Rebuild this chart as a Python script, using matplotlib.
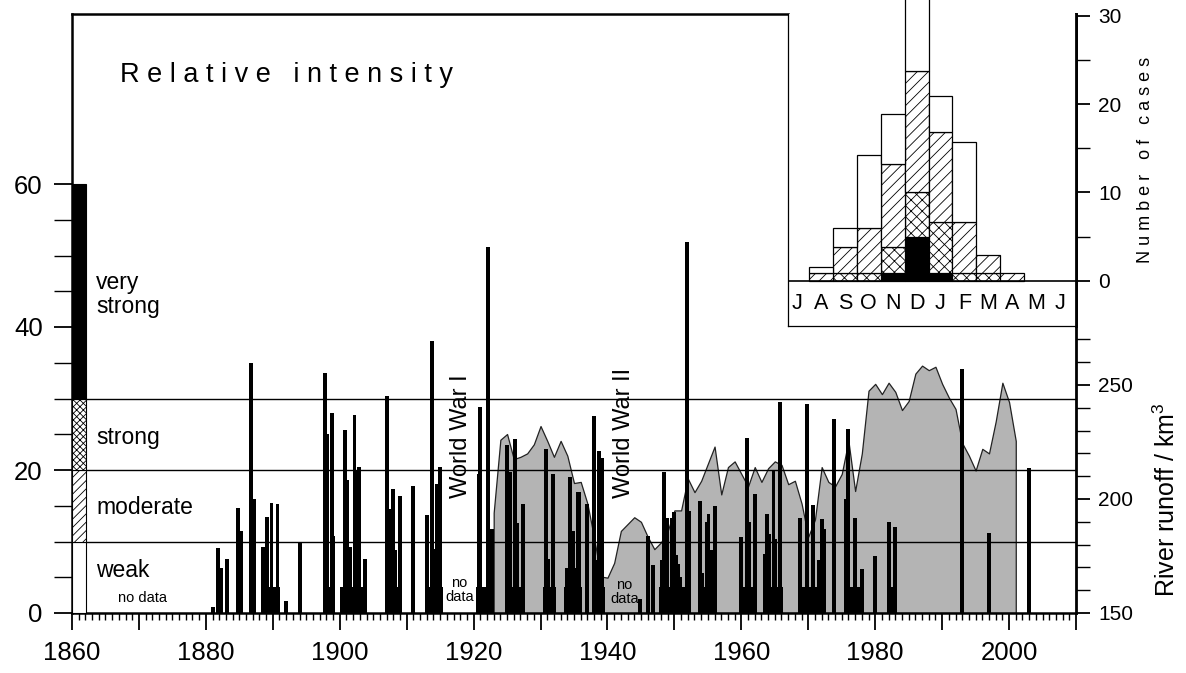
import matplotlib
matplotlib.use('Agg')
import matplotlib.pyplot as plt
from matplotlib.ticker import FixedLocator, FuncFormatter, MultipleLocator

plt.rcParams['font.family'] = ['Liberation Sans', 'DejaVu Sans']
plt.rcParams['mathtext.fontset'] = 'custom'
plt.rcParams['mathtext.rm'] = 'Liberation Sans'
plt.rcParams['hatch.linewidth'] = 0.6

# ---------------- data ----------------
# individual ice-jam events: (year position, relative intensity)
event_years = [1881.0, 1881.8, 1882.3, 1883.2, 1884.8, 1885.2, 1886.8, 1887.2, 1888.5, 1889.1,
               1889.8, 1890.7, 1892.0, 1894.1, 1897.8, 1898.1, 1898.8, 1899.0, 1900.8, 1901.1,
               1901.4, 1901.6, 1902.2, 1902.6, 1902.9, 1903.8, 1907.0, 1907.6, 1908.0, 1908.3,
               1909.0, 1911.0, 1913.0, 1913.8, 1914.2, 1914.5, 1915.0, 1920.8, 1921.0, 1922.2,
               1922.7, 1925.0, 1925.3, 1925.5, 1926.2, 1926.5, 1927.4, 1930.8, 1931.1, 1931.9,
               1933.9, 1934.2, 1934.4, 1934.6, 1934.9, 1935.1, 1935.6, 1935.8, 1937.0, 1938.0,
               1938.3, 1938.8, 1939.2, 1944.9, 1946.1, 1946.8, 1948.1, 1948.5, 1948.9, 1949.6,
               1949.9, 1950.3, 1950.6, 1950.9, 1951.2, 1951.9, 1952.2, 1953.8, 1954.1, 1954.9,
               1955.1, 1955.6, 1956.0, 1960.0, 1960.9, 1961.2, 1962.0, 1963.6, 1963.9, 1964.2,
               1964.8, 1965.1, 1965.8, 1968.8, 1969.8, 1970.7, 1971.6, 1972.0, 1972.3, 1973.8,
               1975.7, 1975.9, 1977.0, 1978.0, 1980.0, 1982.0, 1983.0, 1993.0, 1997.0, 2003.0]
event_values = [0.9, 9.1, 6.3, 7.6, 14.7, 11.5, 35.0, 16.0, 9.3, 13.4,
                15.4, 15.3, 1.7, 9.8, 33.6, 25.1, 28.0, 10.8, 25.6, 18.6,
                8.1, 9.2, 27.7, 20.0, 20.4, 7.6, 30.3, 14.5, 17.3, 8.8,
                16.3, 17.7, 13.7, 38.0, 8.9, 18.1, 20.4, 19.5, 28.8, 51.2,
                11.7, 23.5, 10.6, 19.7, 24.4, 12.6, 15.3, 23.0, 7.5, 19.4,
                6.3, 6.3, 19.0, 6.3, 11.4, 6.3, 16.9, 16.9, 15.2, 27.6,
                7.4, 22.7, 21.7, 1.9, 10.7, 6.7, 7.4, 19.7, 13.3, 13.3,
                14.1, 8.1, 6.8, 5.1, 3.5, 51.9, 14.2, 15.6, 5.6, 12.7,
                13.9, 8.8, 14.9, 10.6, 24.5, 12.7, 16.6, 8.3, 13.8, 11.1,
                19.9, 10.3, 29.5, 13.3, 29.3, 15.1, 7.4, 13.1, 11.8, 27.2,
                15.9, 25.7, 13.3, 6.1, 8.0, 12.7, 12.0, 34.1, 11.2, 20.3]

# many weak events (intensity about 3.6)
weak_years = [1888.8, 1889.2, 1889.5, 1889.9, 1890.2, 1890.5, 1890.8,
              1898.0, 1898.4, 1898.7, 1899.0,
              1900.3, 1900.6, 1901.0, 1901.3, 1901.7, 1902.0, 1902.4, 1902.8, 1903.1, 1903.5, 1903.8,
              1907.7, 1908.1, 1908.4, 1908.8, 1909.1,
              1913.0, 1913.4, 1913.7, 1914.1, 1914.4, 1914.8, 1915.1,
              1920.7, 1921.1, 1921.4, 1921.8, 1922.1, 1922.4,
              1924.9, 1925.3, 1925.6, 1926.0, 1926.3, 1926.7, 1927.0, 1927.3,
              1930.7, 1931.1, 1931.4, 1931.8, 1932.0,
              1933.8, 1934.2, 1934.5, 1934.9, 1935.2, 1935.6, 1935.9,
              1938.0, 1938.4, 1938.7, 1939.0, 1939.3,
              1948.0, 1948.4, 1948.7, 1949.1, 1949.4, 1949.8, 1950.1, 1950.5, 1950.8, 1951.2, 1951.5,
              1953.8, 1954.2, 1954.5, 1954.9, 1955.2, 1955.6, 1955.9,
              1960.1, 1960.5, 1960.8, 1961.2, 1961.5, 1961.9,
              1963.5, 1963.9, 1964.2, 1964.6, 1964.9, 1965.3, 1965.6, 1965.9,
              1968.8, 1969.2, 1969.5, 1969.9, 1970.2, 1970.6, 1970.9, 1971.3, 1971.6, 1972.0,
              1975.7, 1976.1, 1976.4, 1976.8, 1977.1, 1977.5, 1977.8, 1978.1,
              1982.0, 1982.3, 1982.7, 1983.0]
weak_value = 3.6

# river runoff (km^3)
runoff_years = list(range(1923, 2002))
runoff = [194, 226, 228.5, 217.5, 218.5, 220, 224, 232, 225.5, 218.5,
          225.5, 219, 207, 207.5, 198, 183, 166, 165.5, 172, 186,
          189, 192, 190, 183.5, 178, 181, 186, 195, 195, 209,
          203, 208, 215.5, 223, 202, 214, 216.5, 211, 205.5, 214,
          207.5, 213.5, 216.5, 215, 206.5, 208, 198, 183.5, 191, 214,
          207.5, 205.5, 211, 225.5, 203.5, 220, 247.5, 250.5, 246, 251,
          247, 239, 243, 255, 258.5, 256.5, 258, 250.5, 244.5, 239.5,
          224.5, 219, 212.5, 222, 220, 234, 251, 242.5, 225.5]

# intensity classes (left scale bar)
class_names = ['weak', 'moderate', 'strong', 'very\nstrong']
class_bounds = [0, 10, 20, 30, 60]
class_label_y = [6.0, 14.7, 24.6, 44.5]

# inset: number of cases per month, by class
months = ['J', 'A', 'S', 'O', 'N', 'D', 'J', 'F', 'M', 'A', 'M', 'J']
cases_very_strong = [0, 0, 0, 0, 0.9, 5.0, 0.9, 0, 0, 0, 0, 0]
cases_strong = [0, 0, 0.9, 0.9, 2.95, 5.0, 5.8, 0.9, 0.9, 0, 0, 0]
cases_moderate = [0, 0.9, 2.95, 5.1, 9.35, 13.7, 10.1, 5.8, 2.0, 0.9, 0, 0]
cases_weak = [0, 0.7, 2.15, 8.2, 5.7, 9.3, 4.1, 9.0, 0, 0, 0, 0]

# ---------------- figure ----------------
W, H = 1186, 673
fig = plt.figure(figsize=(W / 100, H / 100), dpi=100)


def px(x0, y0, x1, y1):
    return [x0 / W, 1 - y1 / H, (x1 - x0) / W, (y1 - y0) / H]


ax = fig.add_axes(px(72, 14, 1076, 613))
ax2 = ax.twinx()
ax.set_zorder(2)
ax2.set_zorder(1)
ax.patch.set_visible(False)

YTOP = 599 / 7.15
ax.set_xlim(1860, 2010)
ax.set_ylim(0, YTOP)
ax2.set_ylim(150, 150 + 599 / 2.28)

# runoff area
ax2.fill_between(runoff_years, 150, runoff, facecolor='#b4b4b4',
                 edgecolor='#222222', linewidth=0.9)

# class boundaries
for b in class_bounds[1:4]:
    ax.axhline(b, color='black', lw=1.0, zorder=3)

# events
ax.bar(weak_years, [weak_value] * len(weak_years), width=0.55, color='black', lw=0, zorder=4)
ax.bar(event_years, event_values, width=0.58, color='black', lw=0, zorder=4)

# left scale bar
faces = ['white', 'white', 'white', 'black']
hatches = [None, '////', 'xxxxx', None]
for i in range(4):
    ax.bar(1860, class_bounds[i + 1] - class_bounds[i], bottom=class_bounds[i], width=2.1,
           align='edge', facecolor=faces[i], edgecolor='black', hatch=hatches[i], lw=0.8,
           zorder=5)
for name, yy in zip(class_names, class_label_y):
    ax.text(1863.6, yy, name, fontsize=16.5, ha='left', va='center', linespacing=1.05,
            zorder=6)

ax.text(1867.2, 75.2, 'R e l a t i v e   i n t e n s i t y', fontsize=19.5,
        ha='left', va='center')
ax.text(1870.5, 2.1, 'no data', fontsize=10.5, ha='center', va='center')
ax.text(1917.9, 3.2, 'no\ndata', fontsize=10.5, ha='center', va='center', linespacing=1.0,
        zorder=6)
ax.text(1942.5, 2.9, 'no\ndata', fontsize=10.5, ha='center', va='center', linespacing=1.0,
        zorder=6)
ax.text(1918.1, 24.7, 'World War I', fontsize=17, rotation=90, ha='center', va='center',
        zorder=6)
ax.text(1942.5, 25.2, 'World War II', fontsize=17, rotation=90, ha='center', va='center',
        zorder=6)

# spines
for s in ['left', 'bottom']:
    ax.spines[s].set_linewidth(1.8)
ax.spines['right'].set_visible(False)
ax.spines['top'].set_linewidth(1.8)
ax.spines['top'].set_bounds(1860, 1966.9)
for s in ['left', 'top', 'bottom']:
    ax2.spines[s].set_visible(False)
ax2.spines['right'].set_linewidth(2.0)

# x ticks
ax.xaxis.set_major_locator(FixedLocator(list(range(1860, 2011, 10))))
ax.xaxis.set_minor_locator(MultipleLocator(1))
ax.xaxis.set_major_formatter(FuncFormatter(lambda v, p: f'{int(v)}' if int(v) % 20 == 0 and v < 2010 else ''))
ax.tick_params(axis='x', which='major', direction='out', length=12, width=1.3, labelsize=18.5, pad=8)
ax.tick_params(axis='x', which='minor', direction='out', length=5, width=1.0)

# left y ticks
ax.yaxis.set_major_locator(FixedLocator([0, 20, 40, 60]))
ax.yaxis.set_minor_locator(FixedLocator(list(range(0, 61, 5))))
ax.tick_params(axis='y', which='major', direction='out', length=13, width=1.3, labelsize=18.5, pad=8)
ax.tick_params(axis='y', which='minor', direction='out', length=13, width=1.0)

# right y ticks (runoff)
ax2.yaxis.set_major_locator(FixedLocator([150, 200, 250]))
ax2.yaxis.set_minor_locator(FixedLocator(list(range(150, 271, 10))))
ax2.tick_params(axis='y', which='major', direction='out', length=10, width=1.3, labelsize=15, pad=6)
ax2.tick_params(axis='y', which='minor', direction='out', length=10, width=1.0)
fig.text(1167 / W, 1 - 500 / H, 'River runoff / km$^3$', rotation=90, fontsize=18,
         ha='center', va='center')

# ---------------- inset ----------------
axi = fig.add_axes(px(788, 14, 1076, 326))
axi.set_zorder(5)
axi.set_facecolor('white')
axi.set_xlim(-0.38, 11.67)
axi.set_ylim(-(326 - 280.7) / 8.83, (280.7 - 14) / 8.83)
mi = list(range(len(months)))
b0 = [0] * 12
b1 = cases_very_strong
b2 = [a + b for a, b in zip(b1, cases_strong)]
b3 = [a + b for a, b in zip(b2, cases_moderate)]
layers = [(cases_very_strong, b0, 'black', None),
          (cases_strong, b1, 'white', 'xxx'),
          (cases_moderate, b2, 'white', '///'),
          (cases_weak, b3, 'white', None)]
for vals, bot, fc, h in layers:
    for i in mi:
        if vals[i] > 0:
            axi.bar(i, vals[i], bottom=bot[i], width=1.0, facecolor=fc, edgecolor='black',
                    hatch=h, lw=0.9, clip_on=False, zorder=2)
axi.axhline(0, color='black', lw=1.2, zorder=3)
for i, m in zip(mi, months):
    axi.text(i, -2.6, m, fontsize=15.5, ha='center', va='center')
axi.spines['top'].set_visible(False)
axi.spines['left'].set_linewidth(0.9)
axi.spines['bottom'].set_linewidth(0.9)
axi.spines['right'].set_linewidth(2.0)
axi.set_xticks([])
axi.yaxis.tick_right()
axi.yaxis.set_major_locator(FixedLocator([0, 10, 20, 30]))
axi.yaxis.set_minor_locator(FixedLocator([5, 15, 25]))
axi.tick_params(axis='y', which='major', direction='out', length=10, width=1.3, labelsize=15, pad=6)
axi.tick_params(axis='y', which='minor', direction='out', length=10, width=1.0)
fig.text(1145 / W, 1 - 160 / H, 'N u m b e r   o f   c a s e s', rotation=90, fontsize=13,
         ha='center', va='center')

fig.savefig('out.png', dpi=100)
